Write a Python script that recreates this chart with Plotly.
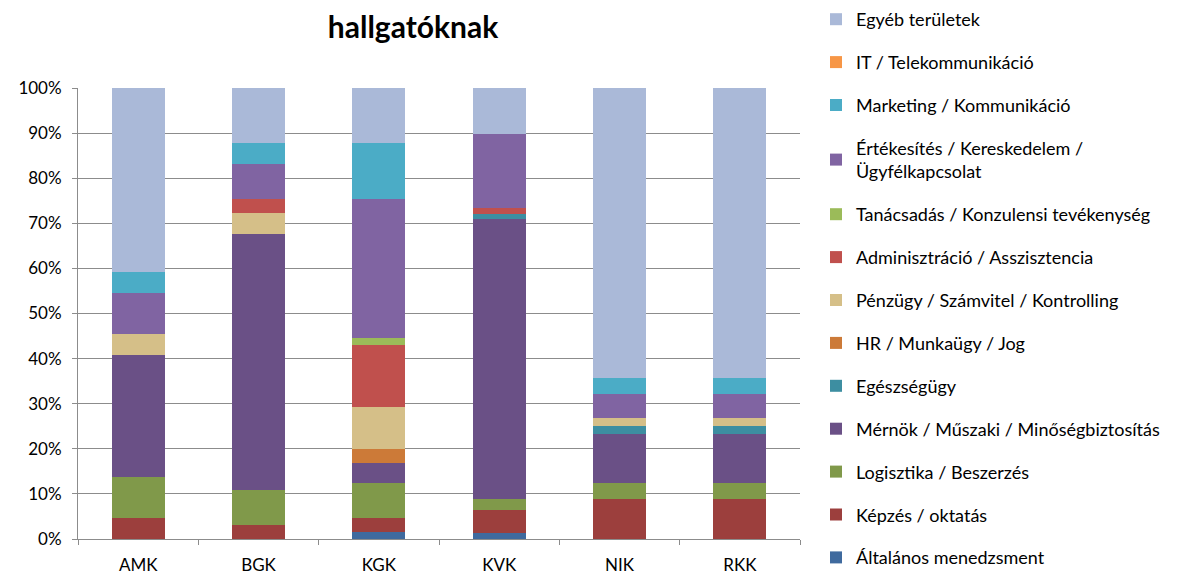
import plotly.graph_objects as go

categories = ["AMK", "BGK", "KGK", "KVK", "NIK", "RKK"]

series_names = [
    "Általános menedzsment",
    "Képzés / oktatás",
    "Logisztika / Beszerzés",
    "Mérnök / Műszaki / Minőségbiztosítás",
    "Egészségügy",
    "HR / Munkaügy / Jog",
    "Pénzügy / Számvitel / Kontrolling",
    "Adminisztráció / Asszisztencia",
    "Tanácsadás / Konzulensi tevékenység",
    "Értékesítés / Kereskedelem /<br>Ügyfélkapcsolat",
    "Marketing / Kommunikáció",
    "IT / Telekommunikáció",
    "Egyéb területek",
]

altalanos = [0, 0, 1.54, 1.27, 0, 0]
kepzes = [4.55, 3.08, 3.08, 5.06, 8.93, 8.93]
logisztika = [9.09, 7.69, 7.69, 2.53, 3.57, 3.57]
mernok = [27.27, 56.92, 4.62, 62.03, 10.71, 10.71]
egeszseg = [0, 0, 0, 1.27, 1.79, 1.79]
hr = [0, 0, 3.08, 0, 0, 0]
penzugy = [4.55, 4.62, 9.23, 0, 1.79, 1.79]
admin = [0, 3.08, 13.85, 1.27, 0, 0]
tanacsadas = [0, 0, 1.54, 0, 0, 0]
ertekesites = [9.09, 7.69, 30.77, 16.46, 5.36, 5.36]
marketing = [4.55, 4.62, 12.31, 0, 3.57, 3.57]
it = [0, 0, 0, 0, 0, 0]
egyeb = [40.91, 12.31, 12.31, 10.13, 64.29, 64.29]

series_values = [altalanos, kepzes, logisztika, mernok, egeszseg, hr, penzugy,
                 admin, tanacsadas, ertekesites, marketing, it, egyeb]

colors = ["#3F6A9E", "#9C3F3D", "#80994A", "#6A5086", "#3D8EA1", "#CC7A38",
          "#D5BF88", "#C0504D", "#9BBB59", "#8064A2", "#4BACC6", "#F79646",
          "#AAB9D8"]

y_ticks = [0, 10, 20, 30, 40, 50, 60, 70, 80, 90, 100]
y_tick_labels = [f"{v}%" for v in y_ticks]

fig = go.Figure()
n = len(series_names)
for i, (name, vals, col) in enumerate(zip(series_names, series_values, colors)):
    fig.add_trace(go.Bar(
        x=categories, y=vals, name=name,
        marker=dict(color=col, line=dict(width=0)),
        legendgroup=str(i),
        legendrank=n - i,
    ))

FONT = "Lato, 'Open Sans', sans-serif"

W, H = 1175, 569
L, T = 70, 80
PW, PH = 722, 451

fig.update_layout(
    barmode="stack",
    bargap=0.56,
    width=W, height=H,
    paper_bgcolor="white", plot_bgcolor="white",
    margin=dict(l=L, r=W - L - PW, t=T, b=H - T - PH, autoexpand=False),
    font=dict(family=FONT, size=17, color="#000000"),
    title=dict(text="<b>hallgatóknak</b>", x=405 / W, xanchor="center",
               y=1 - 19 / H, yanchor="middle",
               font=dict(family=FONT, size=30, color="#000000")),
    legend=dict(
        x=(808 - L) / PW, xanchor="left",
        y=1 + (T + 7) / PH, yanchor="top",
        traceorder="grouped",
        tracegroupgap=16.5,
        font=dict(family=FONT, size=18, color="#000000"),
        itemwidth=30,
        maxheight=900,
        bgcolor="rgba(0,0,0,0)",
    ),
    showlegend=True,
)

fig.update_yaxes(
    range=[0, 100], tickvals=y_ticks, ticktext=y_tick_labels,
    showgrid=True, gridcolor="#8C8C8C", gridwidth=1,
    showline=True, linecolor="#8C8C8C", linewidth=1,
    ticks="outside", ticklen=5, tickcolor="#8C8C8C",
    ticklabelstandoff=7,
    tickfont=dict(size=17), zeroline=False,
)
fig.update_xaxes(
    showline=True, linecolor="#8C8C8C", linewidth=1,
    ticks="outside", ticklen=5, tickcolor="#8C8C8C",
    tickson="boundaries", showgrid=False,
    ticklabelstandoff=11,
    tickfont=dict(size=17),
)

fig.write_html("out.html")
